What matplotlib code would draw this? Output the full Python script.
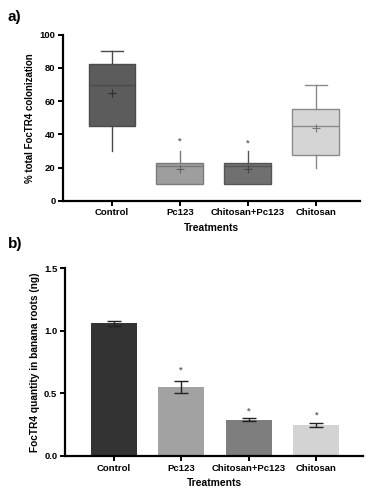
import matplotlib
matplotlib.use("Agg")
import matplotlib.pyplot as plt

plt.rcParams['font.family'] = ['Liberation Sans', 'DejaVu Sans']
plt.rcParams['font.weight'] = 'bold'

categories = ["Control", "Pc123", "Chitosan+Pc123", "Chitosan"]

# Panel a: box statistics (% total FocTR4 colonization)
whisker_low = [30, 10, 10, 20]
q1 = [45, 10, 10, 27.5]
medians = [70, 21, 21, 45]
q3 = [82.5, 22.5, 22.5, 55]
whisker_high = [90, 30, 30, 70]
means = [65, 19, 19, 44]
box_sig = [None, 36, 35, None]

# Panel b: FocTR4 quantity (ng)
quantity = [1.06, 0.55, 0.29, 0.245]
quantity_sem = [0.02, 0.05, 0.01, 0.015]
bar_sig = [None, 0.69, 0.36, 0.33]

box_fill = ["#5c5c5c", "#9e9e9e", "#707070", "#d5d5d5"]
box_edge = ["#4a4a4a", "#7a7a7a", "#555555", "#8a8a8a"]
mean_color = ["#2e2e2e", "#606060", "#444444", "#777777"]
upper_cap = [True, False, False, True]
bar_fill = ["#333333", "#a2a2a2", "#7e7e7e", "#d3d3d3"]

fig = plt.figure(figsize=(3.8, 4.97), dpi=100)

def style_axes(ax):
    for s in ["top", "right"]:
        ax.spines[s].set_visible(False)
    for s in ["left", "bottom"]:
        ax.spines[s].set_linewidth(1.6)
    ax.tick_params(width=1.4, length=3.5, labelsize=6.8, pad=2)
    for lab in ax.get_xticklabels() + ax.get_yticklabels():
        lab.set_fontweight('bold')

# ---- Panel a
ax1 = fig.add_axes([0.166, 0.596, 0.781, 0.334])
stats = []
for i, c in enumerate(categories):
    stats.append(dict(label=c, whislo=whisker_low[i], q1=q1[i], med=medians[i],
                      q3=q3[i], whishi=whisker_high[i], mean=means[i], fliers=[]))
pos = list(range(len(categories)))
bp = ax1.bxp(stats, positions=pos, widths=0.69, patch_artist=True, showmeans=True,
             capwidths=0.32, manage_ticks=False)
for i, b in enumerate(bp['boxes']):
    b.set_facecolor(box_fill[i]); b.set_edgecolor(box_edge[i]); b.set_linewidth(1.0)
    bp['medians'][i].set_color(box_edge[i]); bp['medians'][i].set_linewidth(1.0)
    for w in bp['whiskers'][2*i:2*i+2]:
        w.set_color(box_edge[i]); w.set_linewidth(1.0)
    for cp in bp['caps'][2*i:2*i+2]:
        cp.set_color(box_edge[i]); cp.set_linewidth(1.0)
    bp['caps'][2*i].set_visible(False)
    bp['caps'][2*i+1].set_visible(upper_cap[i])
    m = bp['means'][i]
    m.set_marker('+'); m.set_markeredgecolor(mean_color[i]); m.set_markerfacecolor(mean_color[i])
    m.set_markersize(6); m.set_markeredgewidth(0.8)
for i, s in enumerate(box_sig):
    if s is not None:
        ax1.text(pos[i], s, "*", ha='center', va='center', fontsize=6.5, color='#666666')
ax1.set_xlim(-0.72, 3.65)
ax1.set_ylim(0, 100)
ax1.set_yticks([0, 20, 40, 60, 80, 100])
ax1.set_xticks(pos)
ax1.set_xticklabels(categories)
ax1.set_ylabel("% total FocTR4 colonization", fontsize=7.0, fontweight='bold', labelpad=3)
ax1.set_xlabel("Treatments", fontsize=7.4, fontweight='bold', labelpad=4)
style_axes(ax1)

# ---- Panel b
ax2 = fig.add_axes([0.171, 0.0825, 0.784, 0.378])
ax2.bar(pos, quantity, width=0.68, color=bar_fill, edgecolor='none')
ax2.errorbar(pos, quantity, yerr=quantity_sem, fmt='none', ecolor='#222222',
             elinewidth=1.0, capsize=5, capthick=1.0)
for i, s in enumerate(bar_sig):
    if s is not None:
        ax2.text(pos[i], s, "*", ha='center', va='center', fontsize=6.5, color='#666666')
ax2.set_xlim(-0.72, 3.69)
ax2.set_ylim(0, 1.5)
ax2.set_yticks([0.0, 0.5, 1.0, 1.5])
ax2.set_yticklabels(["0.0", "0.5", "1.0", "1.5"])
ax2.set_xticks(pos)
ax2.set_xticklabels(categories)
ax2.set_ylabel("FocTR4 quantity in banana roots (ng)", fontsize=7.3, fontweight='bold', labelpad=3)
ax2.set_xlabel("Treatments", fontsize=7.4, fontweight='bold', labelpad=4)
style_axes(ax2)

fig.text(0.02, 0.965, "a)", fontsize=11, fontweight='bold', va='center')
fig.text(0.02, 0.51, "b)", fontsize=11, fontweight='bold', va='center')

fig.savefig("out.png", dpi=100, facecolor='white')
